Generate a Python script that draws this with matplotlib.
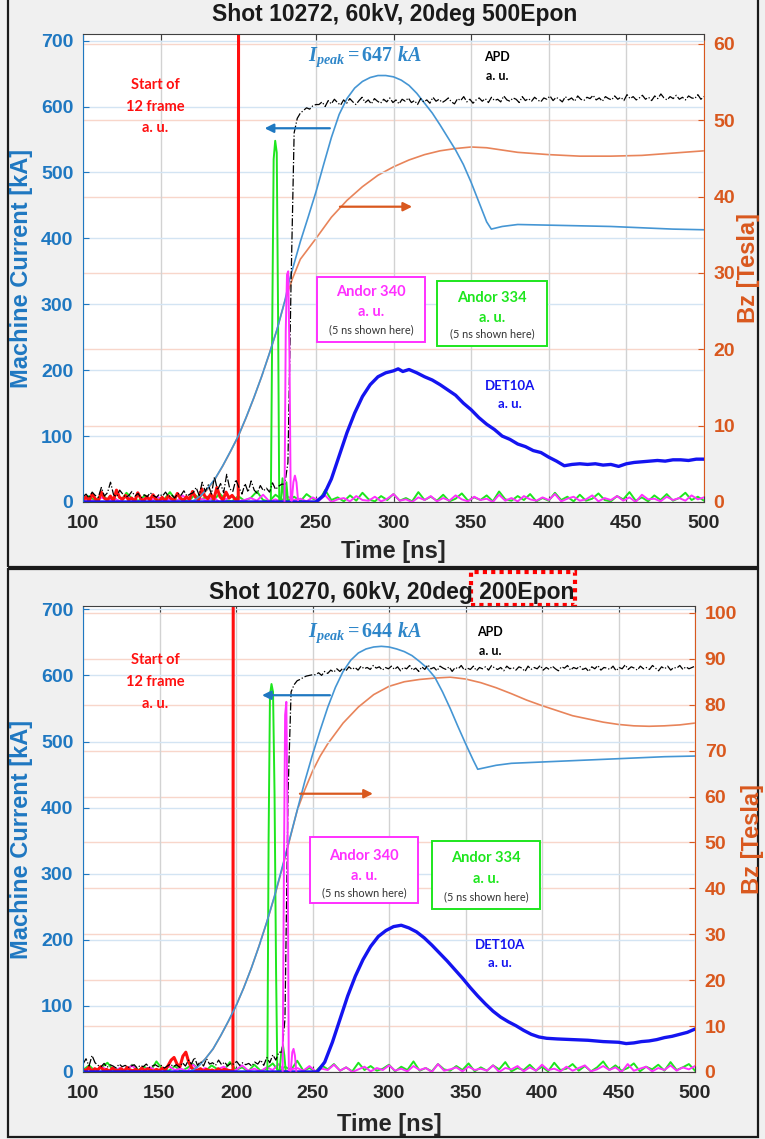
import numpy as np
import matplotlib
matplotlib.use("Agg")
import matplotlib.pyplot as plt
from matplotlib.patches import Rectangle

plt.rcParams['font.family'] = ['Liberation Sans', 'DejaVu Sans']
plt.rcParams['mathtext.fontset'] = 'custom'
plt.rcParams['mathtext.rm'] = 'Liberation Serif:bold'
plt.rcParams['mathtext.it'] = 'Liberation Serif:italic:bold'
plt.rcParams['mathtext.bf'] = 'Liberation Serif:bold'

# ---------------- DATA ----------------
titles = ["Shot 10272, 60kV, 20deg 500Epon", "Shot 10270, 60kV, 20deg 200Epon"]
ipeak_labels = [r"$I_{peak} = 647\ kA$", r"$I_{peak} = 644\ kA$"]
x_ticks = [100, 150, 200, 250, 300, 350, 400, 450, 500]
left_ticks = [0, 100, 200, 300, 400, 500, 600, 700]
right_ticks_top = [0, 10, 20, 30, 40, 50, 60]
right_ticks_bot = [0, 10, 20, 30, 40, 50, 60, 70, 80, 90, 100]

# ---- top panel (shot 10272) ----
cur_top_t = [100, 168, 172, 176, 180, 185, 190, 195, 200, 205, 210, 215, 220, 225, 230, 233, 240, 245, 250,
             255, 260, 265, 270, 275, 280, 285, 290, 295, 300, 305, 310, 315, 320, 325, 330, 335, 340, 345,
             350, 355, 360, 363, 370, 380, 400, 420, 440, 460, 480, 500]
cur_top_v = [0, 0, 3, 10, 20, 35, 55, 77, 100, 128, 158, 190, 225, 262, 305, 337, 395, 432, 470,
             512, 553, 588, 612, 628, 638, 644, 647, 647, 645, 640, 632, 620, 605, 590, 572, 553, 534, 512,
             485, 455, 425, 414, 418, 421, 420, 419, 418, 416, 414, 413]

bz_top_t = [170, 175, 180, 185, 190, 195, 200, 205, 210, 215, 220, 225, 230, 235, 240, 250, 260, 270, 280,
            290, 300, 310, 320, 330, 340, 350, 360, 370, 380, 400, 420, 440, 460, 480, 500]
bz_top_v = [0, 0.5, 1.6, 3.0, 4.7, 6.6, 8.6, 11.0, 13.6, 16.4, 19.4, 22.6, 26.3, 29.3, 31.8, 34.5, 37.3, 39.5, 41.3,
            42.8, 43.9, 44.8, 45.5, 46.0, 46.3, 46.5, 46.4, 46.1, 45.8, 45.5, 45.3, 45.3, 45.4, 45.7, 46.0]

det_top_t = [100, 250, 255, 260, 265, 270, 275, 280, 285, 290, 295, 300, 303, 306, 310, 315, 320, 325, 330,
             335, 340, 345, 350, 355, 360, 365, 370, 375, 380, 385, 390, 395, 400, 405, 410, 415, 420, 425,
             430, 435, 440, 445, 450, 455, 460, 465, 470, 475, 480, 485, 490, 495, 500]
det_top_v = [0, 0, 10, 35, 70, 105, 135, 160, 178, 190, 196, 199, 202, 198, 201, 196, 190, 185, 178,
             170, 162, 150, 140, 128, 118, 110, 100, 95, 88, 84, 78, 75, 68, 62, 55, 57, 58, 57,
             58, 56, 57, 54, 58, 60, 61, 62, 63, 62, 64, 64, 63, 65, 65]

apd_top_pre = [8, 12, 6, 15, 10, 7, 22, 9, 14, 30, 11, 8, 18, 12, 7, 10, 16, 9, 13, 6, 11, 8, 14, 10, 7, 12,
               9, 15, 8, 11, 6, 13, 10, 17, 9, 12,
               14, 22, 10, 30, 16, 26, 12, 38, 18, 28, 14, 42, 20, 16, 34, 22, 12, 28, 15, 32, 18, 13, 25, 17,
               21, 15, 29, 19, 24, 27]
apd_top_rise_t = [230, 232, 234, 236, 238, 240, 242, 244, 246, 248, 250]
apd_top_rise_v = [27, 60, 330, 560, 582, 590, 594, 598, 596, 601, 603]
apd_top_post = [603, 607, 600, 609, 604, 611, 606, 602, 610, 605, 612, 607, 603, 609, 614, 606, 610, 604, 612,
                608, 605, 611, 607, 613, 606, 610,
                604, 611, 608, 613, 606, 609, 603, 612, 607, 610, 605, 614, 608, 611, 606, 609, 613, 607, 604,
                612, 609, 615, 607, 611, 605, 610, 613, 608, 612, 606, 614, 609, 611, 607, 616, 610, 608, 613,
                611, 606, 615, 609, 612, 608, 614, 610, 607, 613, 611, 616,
                609, 614, 611, 607, 615, 610, 613, 608, 616, 611, 609, 614, 612, 617, 610, 613, 608, 615, 612,
                610, 616, 611, 614, 609, 618, 612, 615, 610, 613, 617, 611, 614, 609, 616, 612, 619, 613, 610,
                615, 612, 617, 611, 614, 610, 616, 613, 612, 618, 611, 615]

green_top_base = [2, 9, 1, 12, 3, 6, 0, 14, 4, 2, 10, 1, 7, 3, 15, 2, 5, 1, 11, 4, 8, 2, 13, 3, 1, 9, 2, 6, 16,
                  3, 1, 11, 4, 2, 8, 1, 12, 5, 2, 18, 3, 7, 1, 10, 2, 14, 4, 1, 9, 3, 12, 2, 6, 1, 15, 3, 8, 2,
                  11, 1, 5, 13, 2, 7, 3, 10, 1, 16, 4, 2, 9, 3, 12, 1, 6, 2, 14, 3, 8, 1, 11, 2, 5, 13, 3, 1, 9,
                  4, 15, 2, 7, 1, 10, 3, 12, 2, 6, 14, 3, 8, 2]
green_top_pk_t = [221.0, 222.0, 222.8, 223.8, 224.8, 225.6, 226.4, 227.5, 228.5, 229.5, 230.3, 231.0, 232.0]
green_top_pk_v = [2, 300, 520, 548, 530, 300, 3, 2, 36, 3, 2, 30, 2]

mag_top_base = [1, 4, 0, 7, 2, 5, 1, 9, 3, 0, 6, 2, 8, 1, 4, 0, 10, 3, 1, 5, 2, 7, 0, 4, 9, 1, 3, 6, 2, 11, 1,
                4, 0, 8, 3, 5, 1, 7, 2, 10, 0, 4, 6, 1, 9, 3, 2, 8, 1, 5, 12, 2, 4, 0, 7, 3, 9, 1, 6, 2, 10, 4,
                1, 8, 3, 5, 0, 11, 2, 6, 1, 9, 4, 2, 7, 3, 12, 1, 5, 8, 2, 4, 10, 1, 6, 3, 9, 2, 7, 0, 11, 4,
                5, 1, 8, 3, 6, 2, 10, 4, 7]
mag_top_pk_t = [229.8, 230.6, 231.4, 232.2, 233.0, 233.8, 234.5, 235.5, 236.5, 237.5, 238.5]
mag_top_pk_v = [2, 260, 345, 350, 220, 3, 2, 30, 40, 30, 3]

red_top_pre = [3, 8, 2, 12, 5, 1, 15, 6, 3, 9, 2, 18, 7, 4, 10, 3, 6, 1, 14, 5, 2, 8, 3, 11, 4, 1, 7, 2, 9, 5,
               3, 13, 6, 2, 8, 4, 16, 7, 3, 20, 9, 5, 12, 4, 22, 8, 3, 15, 6, 10, 4]
red_top_step_t = [200.0, 200.8, 500.0]
red_top_step_v = [4, 3000, 3000]

# ---- bottom panel (shot 10270) ----
cur_bot_t = [100, 168, 172, 176, 180, 185, 190, 195, 200, 205, 210, 215, 220, 225, 230, 235, 240, 245, 250,
             255, 260, 265, 270, 275, 280, 285, 290, 295, 300, 305, 310, 315, 320, 325, 330, 335, 340, 345,
             350, 355, 358, 362, 370, 380, 400, 420, 440, 460, 480, 500]
cur_bot_v = [0, 0, 3, 10, 20, 35, 55, 77, 100, 127, 157, 190, 226, 265, 308, 352, 396, 440, 480,
             517, 552, 582, 606, 623, 634, 640, 643, 644, 643, 640, 636, 630, 621, 611, 597, 575, 550, 523,
             497, 472, 458, 460, 464, 467, 469, 471, 473, 475, 477, 478]

bz_bot_t = [170, 175, 180, 185, 190, 195, 200, 205, 210, 215, 220, 225, 230, 235, 240, 245, 250, 255, 260,
            270, 280, 290, 300, 310, 320, 330, 340, 350, 360, 370, 380, 390, 400, 420, 440, 450, 460, 470,
            480, 490, 500]
bz_bot_v = [0, 1.2, 2.9, 5.0, 7.9, 11.0, 14.4, 18.3, 22.6, 27.4, 32.5, 38.0, 44.0, 50.5, 57.0, 61.5, 65.5, 68.8,
            71.5, 76.0, 79.5, 82.2, 84.0, 85.0, 85.5, 85.8, 86.0, 85.6, 84.8, 83.7, 82.4, 81.0, 79.8, 77.6,
            76.2, 75.7, 75.4, 75.3, 75.4, 75.6, 76.0]

det_bot_t = [100, 253, 258, 263, 268, 273, 278, 283, 288, 293, 298, 303, 308, 313, 318, 323, 328, 333, 338,
             343, 348, 353, 358, 363, 368, 373, 378, 383, 388, 393, 398, 403, 410, 420, 430, 440, 450, 455,
             460, 465, 470, 475, 480, 485, 490, 495, 500]
det_bot_v = [0, 0, 15, 45, 80, 115, 145, 170, 190, 205, 214, 220, 222, 218, 212, 203, 192, 180, 168,
             155, 142, 128, 115, 103, 92, 83, 76, 70, 63, 57, 53, 51, 50, 49, 48, 46, 45, 43,
             44, 46, 47, 49, 52, 54, 57, 60, 65]

apd_bot_pre = [12, 20, 9, 25, 14, 10, 8, 13, 7, 11, 9, 6, 12, 8, 10, 7, 9, 11, 6, 10, 8, 12, 7, 9, 11, 8, 10,
               6, 9, 12, 8, 11, 7, 14, 9, 18,
               12, 22, 10, 16, 9, 20, 12, 14, 10, 18, 11, 15, 9, 13, 12, 16, 10, 14, 11, 13, 9, 15, 12, 18,
               10, 22, 14, 26, 18, 30]
apd_bot_rise_t = [230, 232, 234, 236, 238, 240, 242, 244, 246, 248, 250]
apd_bot_rise_v = [30, 80, 420, 575, 586, 592, 594, 597, 599, 600, 601]
apd_bot_post = [601, 604, 600, 606, 603, 608, 605, 610, 606, 611, 607, 613, 609, 612, 608, 614, 610, 612, 609,
                615, 611, 613, 608, 612, 610, 614,
                609, 613, 607, 612, 610, 615, 608, 611, 606, 613, 609, 616, 610, 612, 607, 614, 611, 609, 613,
                606, 612, 610, 615, 608, 611, 609, 614, 607, 612, 610, 613, 608, 615, 611, 609, 612, 607, 614,
                610, 612, 608, 613, 611, 606, 614, 609, 612, 610, 615, 608,
                612, 609, 614, 610, 607, 613, 611, 615, 608, 612, 610, 614, 609, 611, 606, 613, 610, 615, 608,
                612, 611, 609, 614, 607, 612, 610, 616, 609, 613, 611, 608, 614, 610, 612, 609, 615, 611, 607,
                613, 610, 614, 608, 612, 611, 615, 609, 613, 610, 612, 614]

green_bot_base = [3, 10, 1, 7, 14, 2, 5, 0, 11, 3, 8, 1, 16, 4, 2, 9, 1, 6, 12, 3, 1, 10, 4, 2, 15, 3, 7, 1,
                  11, 2, 5, 13, 1, 8, 3, 17, 2, 6, 1, 10, 4, 12, 2, 7, 1, 14, 3, 9, 2, 5, 11, 1, 8, 3, 16, 2,
                  6, 1, 12, 4, 2, 9, 3, 13, 1, 7, 2, 10, 4, 15, 1, 6, 3, 11, 2, 8, 1, 14, 3, 5, 12, 2, 9, 1, 7,
                  16, 3, 10, 2, 6, 13, 1, 8, 4, 11, 2, 15, 3, 7, 12, 2]
green_bot_pk_t = [220.5, 221.3, 222.2, 223.2, 224.2, 225.2, 226.2, 227.0, 228.5, 229.6, 230.7, 231.6, 232.5]
green_bot_pk_v = [2, 350, 570, 587, 575, 420, 150, 3, 2, 30, 40, 25, 2]

mag_bot_base = [2, 5, 1, 8, 3, 0, 6, 2, 10, 1, 4, 7, 2, 0, 9, 3, 5, 1, 11, 2, 6, 0, 4, 8, 1, 3, 10, 2, 5, 1, 7,
                3, 12, 0, 4, 6, 2, 9, 1, 5, 3, 11, 2, 7, 0, 4, 8, 1, 6, 3, 10, 2, 5, 1, 9, 3, 6, 0, 12, 2, 4,
                7, 1, 8, 3, 5, 2, 10, 0, 6, 4, 9, 1, 7, 2, 11, 3, 5, 1, 8, 2, 6, 10, 1, 4, 9, 3, 7, 0, 12, 2,
                5, 8, 1, 6, 3, 10, 2, 7, 4, 9]
mag_bot_pk_t = [230.5, 231.3, 232.1, 232.9, 233.7, 234.5, 235.8, 236.8, 237.6, 238.5, 239.4]
mag_bot_pk_v = [2, 300, 540, 560, 380, 3, 2, 30, 35, 25, 2]

red_bot_pre = [4, 2, 7, 1, 5, 3, 8, 2, 4, 1, 6, 3, 2, 5, 1, 7, 3, 2, 4, 1, 6, 2, 5, 3, 1, 4, 2, 6, 3, 10, 18,
               22, 12, 8, 24, 30, 15, 6, 3, 2, 5, 1, 4, 2, 3, 1, 5, 2, 4, 3, 2]
red_bot_step_t = [198.0, 198.8, 500.0]
red_bot_step_v = [2, 3000, 3000]

# ---------------- STYLE ----------------
BLUE_AX = '#1f78c1'
ORANGE_AX = '#d9581e'
CUR = '#4596d4'
IPK = '#2e86c9'
BZ = '#e8845a'
DET = '#1414f0'
GREEN = '#1ee61e'
MAG = '#ff30ff'
RED = '#ff1010'
W, H = 765, 1139

fig = plt.figure(figsize=(W / 100, H / 100), dpi=100)
fig.patch.set_facecolor('#f0f0f0')


def fx(px):
    return px / W


def fy(py):
    return 1 - py / H


def fig_text(px, py, s, **kw):
    fig.text(fx(px), fy(py), s, **kw)


def panel(box, ylim_l, ylim_r, rticks, d):
    x0, x1, ytop, ybot = box
    ax1 = fig.add_axes([fx(x0), fy(ybot), fx(x1) - fx(x0), fy(ytop) - fy(ybot)])
    ax2 = ax1.twinx()
    ax1.set_zorder(ax2.get_zorder() + 1)
    ax1.patch.set_visible(False)
    ax2.patch.set_visible(True)
    ax2.patch.set_facecolor('white')

    ax1.set_xlim(100, 500)
    ax1.set_ylim(*ylim_l)
    ax2.set_ylim(*ylim_r)

    ax1.set_xticks(x_ticks)
    ax1.set_yticks(left_ticks)
    ax2.set_yticks(rticks)
    ax1.set_axisbelow(True)
    ax2.set_axisbelow(True)
    ax1.grid(axis='x', color='#d2d2d2', lw=1.0)
    ax1.grid(axis='y', color='#d3e4f3', lw=1.0)
    ax2.grid(axis='y', color='#f8d6ca', lw=1.0)

    ax2.plot(d['bz_t'], d['bz_v'], color=BZ, lw=1.2)

    t_base = np.linspace(100, 500, len(d['green_base']))
    ax1.plot(t_base, d['green_base'], color=GREEN, lw=1.4)
    t_mb = np.linspace(100, 500, len(d['mag_base']))
    ax1.plot(t_mb, d['mag_base'], color=MAG, lw=1.4)
    t_red = np.linspace(100, d['red_step_t'][0] - 2, len(d['red_pre']))
    ax1.plot(list(t_red) + d['red_step_t'], d['red_pre'] + d['red_step_v'], color=RED, lw=2.2)
    ax1.plot(d['green_pk_t'], d['green_pk_v'], color=GREEN, lw=1.4)
    ax1.plot(d['cur_t'], d['cur_v'], color=CUR, lw=1.2)
    ax1.plot(d['det_t'], d['det_v'], color=DET, lw=2.4)
    t_apd_pre = np.linspace(100, 228, len(d['apd_pre']))
    t_apd_post = np.linspace(252, 500, len(d['apd_post']))
    apd_t = list(t_apd_pre) + d['apd_rise_t'] + list(t_apd_post)
    apd_v = d['apd_pre'] + d['apd_rise_v'] + d['apd_post']
    ax1.plot(apd_t, apd_v, color='black', lw=0.9, ls='-.')
    ax1.plot(d['mag_pk_t'], d['mag_pk_v'], color=MAG, lw=1.4)

    for sp in ['left', 'top', 'bottom']:
        ax2.spines[sp].set_visible(False)
    ax1.spines['right'].set_visible(False)
    ax2.spines['right'].set_color(ORANGE_AX)
    ax1.spines['left'].set_color(BLUE_AX)
    ax1.spines['top'].set_color('#404040')
    ax1.spines['bottom'].set_color('#404040')

    ax1.tick_params(axis='x', direction='in', top=True, length=4, color='#404040',
                    labelsize=14, labelcolor='#262626', pad=9)
    ax1.tick_params(axis='y', direction='in', length=4, color=BLUE_AX,
                    labelsize=14, labelcolor=BLUE_AX, pad=7)
    ax2.tick_params(axis='y', direction='in', length=4, color=ORANGE_AX,
                    labelsize=14, labelcolor=ORANGE_AX, pad=7)
    for lab in ax1.get_xticklabels() + ax1.get_yticklabels() + ax2.get_yticklabels():
        lab.set_fontweight('bold')
    return ax1, ax2


def annotate(ax1, a):
    lato = ['Lato', 'DejaVu Sans']
    ax1.text(a['ipeak'][0], a['ipeak'][1], a['ipeak_s'], color=IPK, fontsize=14.5,
             ha='center', va='center')
    ax1.text(a['apd'][0], a['apd'][1], "APD\na. u.", color='black', fontsize=9, fontweight='bold',
             family=lato, ha='center', va='center', linespacing=1.7)
    ax1.text(a['start'][0], a['start'][1], "Start of\n12 frame\na. u.", color=RED, fontsize=10.5,
             fontweight='bold', family=lato, ha='center', va='center', linespacing=1.7)
    ax1.text(a['det'][0], a['det'][1], "DET10A\na. u.", color=DET, fontsize=9.5, fontweight='bold',
             family=lato, ha='center', va='center', linespacing=1.6)
    for key, col, name in (('mbox', MAG, "Andor 340"), ('gbox', GREEN, "Andor 334")):
        bx0, bx1, by0, by1, ty1, ty2, ty3 = a[key]
        ax1.add_patch(Rectangle((bx0, by0), bx1 - bx0, by1 - by0, facecolor='white', edgecolor=col,
                                lw=1.4, zorder=5))
        cx = (bx0 + bx1) / 2
        ax1.text(cx, ty1, name, color=col, fontsize=10.5, fontweight='bold', family=lato,
                 ha='center', va='center', zorder=6)
        ax1.text(cx, ty2, "a. u.", color=col, fontsize=10.5, fontweight='bold', family=lato,
                 ha='center', va='center', zorder=6)
        ax1.text(cx, ty3, "(5 ns shown here)", color='#333333', fontsize=7.8, family=lato,
                 ha='center', va='center', zorder=6)
    ax1.annotate("", xy=(a['barrow'][1], a['barrow'][2]), xytext=(a['barrow'][0], a['barrow'][2]),
                 arrowprops=dict(arrowstyle='-|>', color=BLUE_AX, lw=1.6, mutation_scale=13,
                                 shrinkA=0, shrinkB=0))
    ax1.annotate("", xy=(a['oarrow'][1], a['oarrow'][2]), xytext=(a['oarrow'][0], a['oarrow'][2]),
                 arrowprops=dict(arrowstyle='-|>', color=ORANGE_AX, lw=1.6, mutation_scale=13,
                                 shrinkA=0, shrinkB=0))


top = dict(cur_t=cur_top_t, cur_v=cur_top_v, bz_t=bz_top_t, bz_v=bz_top_v, det_t=det_top_t, det_v=det_top_v,
           apd_pre=apd_top_pre, apd_rise_t=apd_top_rise_t, apd_rise_v=apd_top_rise_v, apd_post=apd_top_post,
           green_base=green_top_base, green_pk_t=green_top_pk_t, green_pk_v=green_top_pk_v,
           mag_base=mag_top_base, mag_pk_t=mag_top_pk_t, mag_pk_v=mag_top_pk_v,
           red_pre=red_top_pre, red_step_t=red_top_step_t, red_step_v=red_top_step_v)
bot = dict(cur_t=cur_bot_t, cur_v=cur_bot_v, bz_t=bz_bot_t, bz_v=bz_bot_v, det_t=det_bot_t, det_v=det_bot_v,
           apd_pre=apd_bot_pre, apd_rise_t=apd_bot_rise_t, apd_rise_v=apd_bot_rise_v, apd_post=apd_bot_post,
           green_base=green_bot_base, green_pk_t=green_bot_pk_t, green_pk_v=green_bot_pk_v,
           mag_base=mag_bot_base, mag_pk_t=mag_bot_pk_t, mag_pk_v=mag_bot_pk_v,
           red_pre=red_bot_pre, red_step_t=red_bot_step_t, red_step_v=red_bot_step_v)

a1, b1 = panel((83, 704, 34, 502), (0, 710), (0, 61.3), right_ticks_top, top)
annotate(a1, dict(ipeak=(281.6, 675), ipeak_s=ipeak_labels[0], apd=(366.7, 661), start=(146.4, 600),
                  det=(375, 162),
                  mbox=(250.7, 320.3, 242.8, 341.4, 318.7, 288, 261),
                  gbox=(328.0, 398.9, 236.7, 335.4, 309.6, 279, 255),
                  barrow=(259, 217, 567), oarrow=(265.5, 312, 448)))

a2, b2 = panel((83, 695, 606, 1072), (0, 705), (0, 101.5), right_ticks_bot, bot)
annotate(a2, dict(ipeak=(284.3, 664), ipeak_s=ipeak_labels[1], apd=(366, 652), start=(147, 590),
                  det=(372.5, 178),
                  mbox=(248.4, 319.0, 255, 356, 327, 297, 271.5),
                  gbox=(328.1, 398.7, 247, 350, 323, 292.6, 265.5),
                  barrow=(261.4, 217, 570), oarrow=(241.8, 289.5, 421)))

fig_text(395, 15, titles[0], fontsize=16.5, fontweight='bold', color='#1a1a1a', ha='center', va='center')
fig_text(392, 593, titles[1], fontsize=16.5, fontweight='bold', color='#1a1a1a', ha='center', va='center')
for (yc, xr) in ((268, 749), (839, 752)):
    fig_text(22, yc, "Machine Current [kA]", fontsize=17, fontweight='bold', color=BLUE_AX,
             rotation=90, ha='center', va='center')
    fig_text(xr, yc, "Bz [Tesla]", fontsize=17, fontweight='bold', color=ORANGE_AX,
             rotation=90, ha='center', va='center')
fig_text(393, 551, "Time [ns]", fontsize=17, fontweight='bold', color='#262626', ha='center', va='center')
fig_text(389, 1124, "Time [ns]", fontsize=17, fontweight='bold', color='#262626', ha='center', va='center')

fig.add_artist(Rectangle((fx(471), fy(605)), fx(575) - fx(471), fy(572) - fy(605), transform=fig.transFigure,
                         fill=False, edgecolor='#ff0000', lw=3, ls=(0, (1, 1))))

for (yt, yb) in ((-5, 567), (569, 1137)):
    fig.add_artist(Rectangle((fx(8), fy(yb)), fx(758) - fx(8), fy(yt) - fy(yb), transform=fig.transFigure,
                             fill=False, edgecolor='#1a1a1a', lw=1.6))

fig.savefig("out.png", dpi=100, facecolor=fig.get_facecolor())
